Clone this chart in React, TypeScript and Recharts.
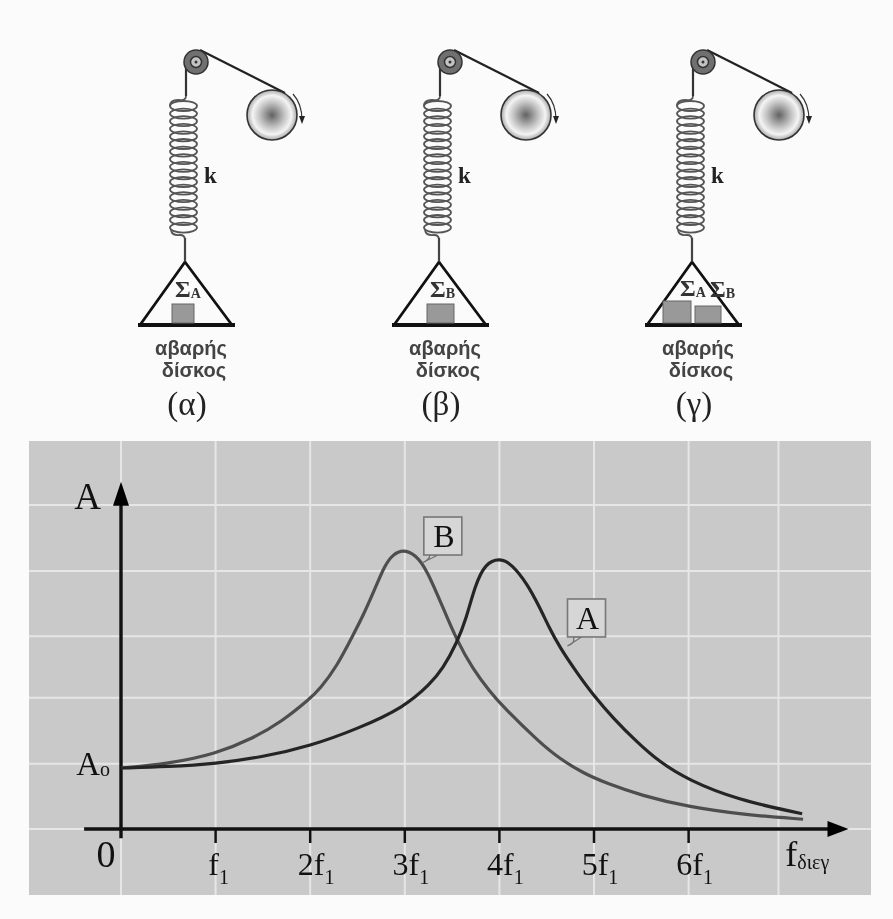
import { LineChart, Line, XAxis, YAxis, CartesianGrid, ReferenceLine, ReferenceDot } from 'recharts';

// curve A: frequency (in f1) and amplitude (in A0)
const freqA = [0, 0.5, 1, 1.5, 2, 2.5, 3, 3.27, 3.4, 3.55, 3.65, 3.74, 3.85, 4.01, 4.13, 4.29, 4.43, 4.52, 4.64, 4.82, 4.99, 5.2, 5.45, 5.69, 6, 6.51, 7.2];
const ampA = [1, 1.02, 1.07, 1.18, 1.36, 1.64, 2.0, 2.38, 2.62, 3.05, 3.45, 3.98, 4.36, 4.44, 4.34, 4.03, 3.62, 3.32, 2.97, 2.56, 2.2, 1.82, 1.43, 1.1, 0.8, 0.48, 0.25];

// curve B
const freqB = [0, 0.5, 1, 1.4, 1.7, 2, 2.1, 2.28, 2.46, 2.56, 2.68, 2.79, 2.875, 2.98, 3.11, 3.23, 3.4, 3.55, 3.72, 3.9, 4.04, 4.43, 4.64, 4.88, 5.13, 5.5, 6, 6.61, 7.21];
const ampB = [1, 1.07, 1.23, 1.49, 1.76, 2.14, 2.29, 2.66, 3.2, 3.5, 3.92, 4.33, 4.5, 4.58, 4.5, 4.26, 3.64, 3.09, 2.62, 2.25, 2.0, 1.41, 1.15, 0.92, 0.75, 0.55, 0.36, 0.23, 0.16];

const xTicks = [0, 1, 2, 3, 4, 5, 6, 7];
const xTickMain = ['0', 'f', '2f', '3f', '4f', '5f', '6f', 'f'];
const xTickSub = ['', '1', '1', '1', '1', '1', '1', 'διεγ'];

const yTicks = [1, 5.39];
const yTickMain = ['A', 'A'];
const yTickSub = ['o', ''];

const gridX = [0, 1, 2, 3, 4, 5, 6, 6.95];
const gridY = [0, 1.07, 2.15, 3.16, 4.23, 5.31];

const dataA = freqA.map((f, i) => ({ f, a: ampA[i] }));
const dataB = freqB.map((f, i) => ({ f, a: ampB[i] }));

const SERIF = '"Liberation Serif", "Times New Roman", Times, serif';
const SANS = '"Liberation Sans", Arial, sans-serif';
const INK = '#111';

const XTick = ({ x, y, index }: any) => {
  const main = xTickMain[index];
  const sub = xTickSub[index];
  if (index === 0) {
    return (
      <text x={x - 15} y={y - 28} textAnchor="middle" fontFamily={SERIF} fontSize={38} fill={INK}>
        {main}
      </text>
    );
  }
  if (index === 7) {
    return (
      <text x={x + 2} y={y - 29} fontFamily={SERIF} fontSize={36} fill={INK}>
        {main}
        <tspan fontSize={20} dy={3}>{sub}</tspan>
      </text>
    );
  }
  return (
    <g>
      <line x1={x} x2={x} y1={y - 66} y2={y - 52} stroke={INK} strokeWidth={2.5} />
      <text x={x + (index === 1 ? 3 : 6)} y={y - 20} textAnchor="middle" fontFamily={SERIF} fontSize={32} fill={INK}>
        {main}
        <tspan fontSize={20} dy={9}>{sub}</tspan>
      </text>
    </g>
  );
};

const YTick = ({ x, y, index }: any) => (
  <text
    x={x + (index === 0 ? 81 : 72)}
    y={y + (index === 0 ? 7 : 9)}
    textAnchor="end"
    fontFamily={SERIF}
    fontSize={index === 0 ? 33 : 37}
    fill={INK}
  >
    {yTickMain[index]}
    {yTickSub[index] && <tspan fontSize={20} dy={1}>{yTickSub[index]}</tspan>}
  </text>
);

const ArrowRight = ({ x1, x2, y1 }: any) => (
  <g>
    <line x1={x1} x2={x2 - 16} y1={y1} y2={y1} stroke={INK} strokeWidth={3.4} />
    <path d={`M${x2},${y1} L${x2 - 21},${y1 - 8} L${x2 - 21},${y1 + 8} Z`} fill="#000" />
  </g>
);

const ArrowUp = ({ x1, y1, y2 }: any) => {
  const top = Math.min(y1, y2);
  const bottom = Math.max(y1, y2);
  return (
    <g>
      <line x1={x1} x2={x1} y1={top + 16} y2={bottom} stroke={INK} strokeWidth={3.4} />
      <path d={`M${x1},${top} L${x1 - 8},${top + 24} L${x1 + 8},${top + 24} Z`} fill="#000" />
    </g>
  );
};

const Callout = ({ cx, cy, text, dx, dy }: any) => (
  <g>
    <path
      d={`M${cx},${cy} Q${cx + 8},${cy - 3} ${cx + dx + 6},${cy + dy + 38} L${cx + dx + 14},${cy + dy + 38} Z`}
      fill="#d8d8d8"
      stroke="#6f6f6f"
      strokeWidth={1.3}
    />
    <rect x={cx + dx} y={cy + dy} width={38} height={38} fill="#d6d6d6" stroke="#777" strokeWidth={1.6} />
    <text x={cx + dx + 20} y={cy + dy + 30} textAnchor="middle" fontFamily={SERIF} fontSize={32} fill="#111">
      {text}
    </text>
  </g>
);

function Apparatus({ dx, caption, masses }: { dx: number; caption: string; masses: any }) {
  const loops = Array.from({ length: 17 }, (_, i) => 106 + i * 7.6);
  return (
    <g transform={`translate(${dx} 0)`}>
      {/* wire, pulley, drive disc */}
      <line x1={186} y1={60} x2={186} y2={96} stroke="#333" strokeWidth={2.2} />
      <line x1={200} y1={50} x2={285} y2={93} stroke="#222" strokeWidth={2.2} />
      <circle cx={196} cy={62} r={12} fill="#707070" stroke="#333" strokeWidth={1.5} />
      <circle cx={196} cy={62} r={5.5} fill="#c4c4c4" stroke="#333" strokeWidth={1.5} />
      <circle cx={196} cy={62} r={1.5} fill="#333" />
      <circle cx={272} cy={115} r={25} fill="url(#discFill)" stroke="#333" strokeWidth={1.6} />
      <path d="M293,94 Q302,104 302,120" fill="none" stroke="#333" strokeWidth={1.2} />
      <path d="M302,124 L299,116 L305,116 Z" fill="#222" />
      {/* spring */}
      <path d="M186,96 Q186,101 178,100 Q170,100 170,106" fill="none" stroke="#555" strokeWidth={1.8} />
      {loops.map((y) => (
        <ellipse key={y} cx={183.5} cy={y} rx={13.5} ry={5} fill="none" stroke="#555" strokeWidth={1.8} />
      ))}
      <path d="M171,230 Q172,236 180,235 Q185,235 185,240" fill="none" stroke="#555" strokeWidth={1.8} />
      <line x1={185} y1={238} x2={185} y2={262} stroke="#444" strokeWidth={2.2} />
      {/* pan */}
      <path d="M185,262 L140,325 M185,262 L232,325" fill="none" stroke="#111" strokeWidth={2.8} />
      <line x1={138} x2={235} y1={325} y2={325} stroke="#111" strokeWidth={4.2} />
      {masses}
      <text x={191} y={355} textAnchor="middle" fontFamily={SANS} fontSize={20} fontWeight={700} fill="#444">αβαρής</text>
      <text x={194} y={377} textAnchor="middle" fontFamily={SANS} fontSize={20} fontWeight={700} fill="#444">δίσκος</text>
      <text x={187} y={415} textAnchor="middle" fontFamily={SERIF} fontSize={33} fill="#222">{caption}</text>
      <text x={204} y={183} fontFamily={SERIF} fontSize={23} fontWeight={700} fill="#222">k</text>
    </g>
  );
}

const Sigma = ({ x, y, sub }: { x: number; y: number; sub: string }) => (
  <text x={x} y={y} fontFamily={SERIF} fontSize={24} fontWeight={700} fill="#333">
    Σ<tspan fontSize={14} dy={1}>{sub}</tspan>
  </text>
);

export default function App() {
  return (
    <div style={{ position: 'absolute', left: 0, top: 0, width: 893, height: 919, background: '#fbfbfb', filter: 'blur(0.6px)' }}>
      <svg width={893} height={430} style={{ position: 'absolute', left: 0, top: 0 }}>
        <defs>
          <radialGradient id="discFill">
            <stop offset="0%" stopColor="#626262" />
            <stop offset="50%" stopColor="#c4c4c4" />
            <stop offset="78%" stopColor="#f4f4f4" />
            <stop offset="100%" stopColor="#a8a8a8" />
          </radialGradient>
        </defs>
        <Apparatus
          dx={0}
          caption="(α)"
          masses={
            <>
              <rect x={172} y={304} width={22} height={19} fill="#999" stroke="#666" />
              <Sigma x={175} y={297} sub="A" />
            </>
          }
        />
        <Apparatus
          dx={254}
          caption="(β)"
          masses={
            <>
              <rect x={173} y={304} width={27} height={19} fill="#999" stroke="#666" />
              <Sigma x={176} y={297} sub="B" />
            </>
          }
        />
        <Apparatus
          dx={507}
          caption="(γ)"
          masses={
            <>
              <rect x={156} y={301} width={28} height={22} fill="#999" stroke="#666" />
              <rect x={188} y={306} width={26} height={17} fill="#999" stroke="#666" />
              <Sigma x={173} y={296} sub="A" />
              <Sigma x={203} y={297} sub="B" />
            </>
          }
        />
      </svg>
      <div style={{ position: 'absolute', left: 0, top: 0 }}>
        <LineChart width={893} height={919} margin={{ top: 441, right: 22, bottom: 23, left: 28 }}>
          <CartesianGrid
            fill="#c9c9c9"
            stroke="#e6e6e6"
            strokeWidth={2}
            horizontalValues={gridY}
            verticalValues={gridX}
          />
          <XAxis
            dataKey="f"
            type="number"
            domain={[-0.9725, 7.928]}
            ticks={xTicks}
            interval={0}
            height={1}
            axisLine={false}
            tickLine={false}
            tickSize={0}
            tickMargin={0}
            tick={XTick}
            allowDataOverflow
          />
          <YAxis
            dataKey="a"
            type="number"
            domain={[-1.082, 6.36]}
            ticks={yTicks}
            interval={0}
            width={1}
            axisLine={false}
            tickLine={false}
            tickSize={0}
            tickMargin={0}
            tick={YTick}
            allowDataOverflow
          />
          <ReferenceLine
            segment={[{ x: -0.39, y: 0 }, { x: 7.69, y: 0 }]}
            shape={ArrowRight}
          />
          <ReferenceLine
            segment={[{ x: 0, y: -0.15 }, { x: 0, y: 5.69 }]}
            shape={ArrowUp}
          />
          <Line data={dataB} dataKey="a" type="basis" stroke="#4e4e4e" strokeWidth={3.2} dot={false} isAnimationActive={false} />
          <Line data={dataA} dataKey="a" type="basis" stroke="#252525" strokeWidth={3.2} dot={false} isAnimationActive={false} />
          <ReferenceDot x={3.18} y={4.36} shape={(p: any) => <Callout {...p} text="B" dx={2} dy={-46} />} />
          <ReferenceDot x={4.72} y={3.0} shape={(p: any) => <Callout {...p} text="A" dx={0} dy={-47} />} />
        </LineChart>
      </div>
    </div>
  );
}
